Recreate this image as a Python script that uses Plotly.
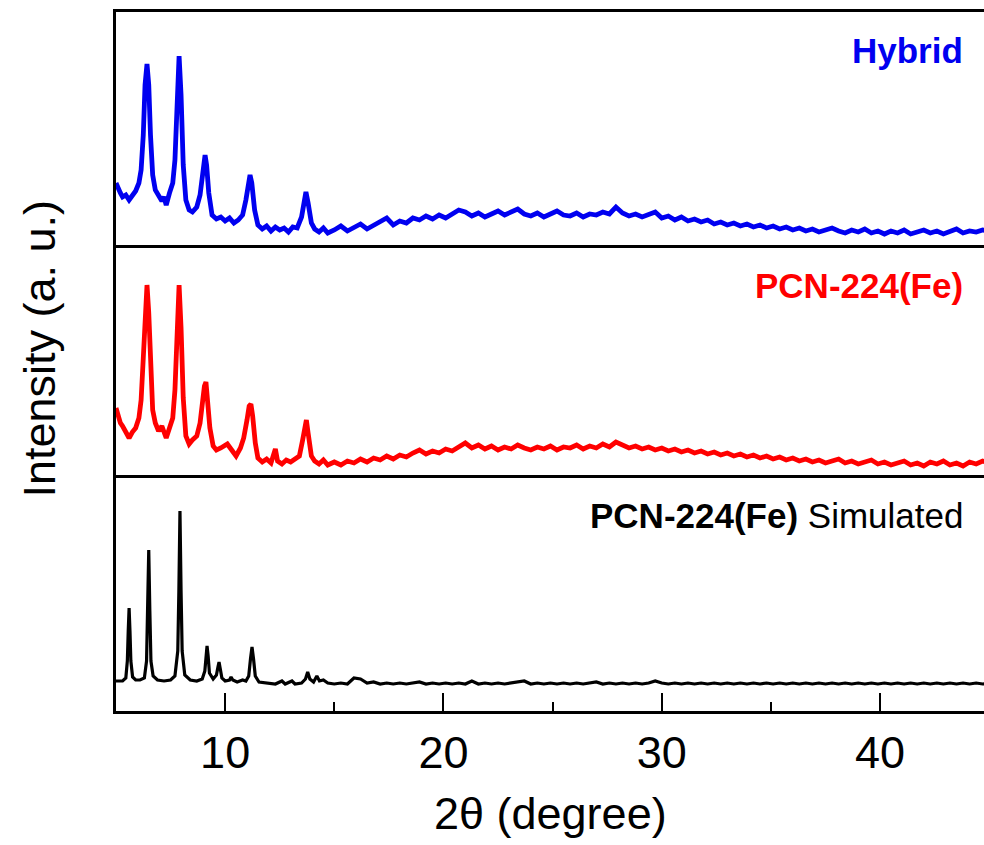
import plotly.graph_objects as go
from plotly.subplots import make_subplots

# ---------------- data (intensity in arbitrary units) ----------------
# Low-angle (peak) region, Hybrid
HYB_X = [5.0, 5.1, 5.2, 5.3, 5.45, 5.6, 5.75, 5.9, 6.05, 6.15, 6.25, 6.33, 6.42, 6.5, 6.58, 6.68,
         6.8, 6.95, 7.1, 7.2, 7.3, 7.45, 7.6, 7.7, 7.8, 7.89, 7.98, 8.08, 8.2, 8.35, 8.5, 8.7,
         8.85, 8.95, 9.03, 9.08, 9.15, 9.25, 9.4, 9.6, 9.8, 10.0, 10.2, 10.4, 10.6, 10.8, 10.95,
         11.05, 11.14, 11.22, 11.35, 11.5, 11.7, 11.9, 12.1, 12.3, 12.5, 12.7, 12.9, 13.1, 13.3,
         13.5, 13.62, 13.7, 13.8, 13.95, 14.1, 14.3, 14.5, 14.7]
HYB_Y = [62, 55, 52, 48, 50, 45, 49, 54, 62, 75, 110, 160, 181, 160, 110, 70,
         55, 50, 44, 48, 40, 52, 62, 85, 150, 189, 150, 80, 45, 35, 33, 38,
         50, 70, 88, 90, 80, 52, 30, 26, 28, 24, 27, 22, 25, 30, 45,
         62, 70, 62, 35, 20, 16, 19, 14, 18, 15, 17, 13, 18, 17,
         28, 45, 53, 42, 22, 16, 13, 17, 12]

# Low-angle (peak) region, PCN-224(Fe)
PCN_X = [5.0, 5.1, 5.2, 5.3, 5.45, 5.6, 5.75, 5.9, 6.05, 6.15, 6.25, 6.33, 6.42, 6.5, 6.58, 6.68,
         6.8, 6.95, 7.1, 7.2, 7.3, 7.45, 7.6, 7.7, 7.8, 7.89, 7.98, 8.08, 8.2, 8.35, 8.5, 8.7,
         8.85, 8.95, 9.05, 9.12, 9.2, 9.3, 9.45, 9.6, 9.8, 10.0, 10.1, 10.3, 10.5, 10.7, 10.85,
         11.0, 11.1, 11.18, 11.26, 11.38, 11.5, 11.7, 11.9, 12.1, 12.3, 12.4, 12.6, 12.8, 13.0,
         13.2, 13.4, 13.55, 13.65, 13.72, 13.8, 13.95, 14.1, 14.3, 14.5, 14.7]
PCN_Y = [70, 62, 55, 52, 45, 40, 46, 50, 60, 78, 120, 170, 193, 165, 110, 68,
         55, 47, 52, 44, 40, 50, 60, 88, 155, 193, 150, 80, 42, 34, 38, 42,
         55, 75, 92, 96, 80, 50, 32, 28, 30, 32, 34, 28, 22, 30, 40,
         58, 72, 74, 62, 35, 20, 16, 19, 15, 29, 17, 14, 18, 16,
         19, 22, 38, 54, 58, 45, 22, 17, 14, 18, 13]

# Low-angle (peak) region, simulated pattern
SIM_X = [5.0, 5.3, 5.45, 5.52, 5.56, 5.6, 5.64, 5.68, 5.76, 5.9, 6.1, 6.3, 6.4, 6.45, 6.5, 6.55,
         6.6, 6.7, 6.9, 7.2, 7.5, 7.7, 7.83, 7.88, 7.93, 7.98, 8.03, 8.15, 8.4, 8.7, 8.95, 9.07,
         9.12, 9.17, 9.22, 9.28, 9.45, 9.6, 9.67, 9.72, 9.77, 9.85, 10.0, 10.2, 10.27, 10.35,
         10.55, 10.7, 10.8, 10.95, 11.08, 11.16, 11.23, 11.3, 11.38, 11.55, 11.9, 12.3, 12.6,
         12.75, 13.06, 13.2, 13.5, 13.68, 13.78, 13.88, 14.05, 14.2, 14.32, 14.5, 14.7]
SIM_Y = [30, 30, 33, 50, 80, 103, 80, 50, 34, 31, 31, 33, 50, 100, 161, 100,
         50, 35, 31, 30, 31, 35, 60, 120, 200, 120, 60, 36, 31, 30, 32, 40,
         55, 65, 55, 38, 32, 36, 44, 49, 43, 33, 30, 31, 34, 31,
         29, 30, 31, 30, 35, 52, 64, 52, 35, 29, 28, 27, 30,
         27, 30, 27, 28, 32, 39, 32, 29, 35, 30, 31, 28]

# High-angle region (shared angle grid)
TAIL_X = [15.0, 15.3, 15.6, 15.9, 16.2, 16.5, 16.8, 17.1, 17.4, 17.7,
          18.0, 18.3, 18.6, 18.9, 19.2, 19.5, 19.8, 20.1, 20.4, 20.7,
          21.0, 21.3, 21.6, 21.9, 22.2, 22.5, 22.8, 23.1, 23.4, 23.7,
          24.0, 24.3, 24.6, 24.9, 25.2, 25.5, 25.8, 26.1, 26.4, 26.7,
          27.0, 27.3, 27.6, 27.9, 28.2, 28.5, 28.8, 29.1, 29.4, 29.7,
          30.0, 30.3, 30.6, 30.9, 31.2, 31.5, 31.8, 32.1, 32.4, 32.7,
          33.0, 33.3, 33.6, 33.9, 34.2, 34.5, 34.8, 35.1, 35.4, 35.7,
          36.0, 36.3, 36.6, 36.9, 37.2, 37.5, 37.8, 38.1, 38.4, 38.7,
          39.0, 39.3, 39.6, 39.9, 40.2, 40.5, 40.8, 41.1, 41.4, 41.7,
          42.0, 42.3, 42.6, 42.9, 43.2, 43.5, 43.8, 44.1, 44.4, 44.7, 45.0]
HYB_TAIL = [15, 19, 14, 18, 21, 16, 20, 23, 27, 20,
            24, 22, 27, 25, 29, 26, 30, 27, 31, 35,
            33, 29, 32, 28, 31, 34, 30, 33, 36, 31,
            29, 32, 28, 31, 34, 30, 29, 32, 28, 31,
            30, 33, 31, 38, 32, 29, 31, 28, 30, 33,
            27, 29, 25, 28, 24, 26, 23, 25, 21, 23,
            20, 22, 19, 21, 18, 20, 17, 19, 16, 18,
            15, 17, 14, 16, 13, 15, 17, 14, 12, 15,
            13, 16, 12, 14, 11, 14, 12, 15, 11, 13,
            15, 12, 14, 11, 13, 16, 12, 14, 13, 15, 14]
PCN_TAIL = [16, 13, 17, 15, 19, 16, 20, 18, 22, 19,
            23, 21, 25, 28, 24, 27, 25, 29, 27, 31,
            35, 30, 33, 29, 32, 28, 31, 29, 33, 30,
            28, 31, 29, 32, 28, 31, 30, 33, 29, 32,
            30, 34, 31, 36, 33, 30, 32, 29, 31, 28,
            30, 27, 29, 26, 28, 25, 27, 24, 26, 23,
            25, 22, 24, 21, 23, 20, 22, 19, 21, 18,
            20, 17, 19, 16, 18, 15, 17, 19, 15, 17,
            14, 16, 18, 14, 16, 13, 15, 17, 13, 15,
            12, 16, 14, 17, 13, 15, 12, 16, 14, 17, 15]
SIM_TAIL = [27, 28, 27, 33, 32, 28, 29, 27, 28, 27,
            28, 27, 28, 29, 27, 28, 27, 28, 27, 28,
            27, 30, 27, 28, 27, 28, 27, 28, 29, 30,
            27, 28, 27, 28, 27, 28, 27, 28, 27, 28,
            29, 27, 28, 27, 28, 27, 28, 27, 28, 30,
            28, 27, 28, 27, 28, 27, 28, 27, 28, 27,
            28, 27, 28, 27, 28, 27, 28, 27, 28, 27,
            28, 27, 28, 27, 28, 27, 28, 27, 28, 27,
            28, 27, 28, 27, 28, 27, 28, 27, 28, 27,
            28, 27, 28, 27, 28, 27, 28, 27, 28, 27, 28]

LABELS = ["<b>Hybrid</b>", "<b>PCN-224(Fe)</b>", "<b>PCN-224(Fe)</b> Simulated"]
COLORS = ["#0000F0", "#FF0000", "#000000"]
X_TICKS = [10, 20, 30, 40]
X_MINOR = [15, 25, 35]

# ---------------- figure ----------------
FONT = "Liberation Sans, Arial, sans-serif"
fig = make_subplots(rows=3, cols=1, shared_xaxes=True, vertical_spacing=0)

series = [
    (HYB_X + TAIL_X, HYB_Y + HYB_TAIL, 4.8),
    (PCN_X + TAIL_X, PCN_Y + PCN_TAIL, 4.8),
    (SIM_X + TAIL_X, SIM_Y + SIM_TAIL, 3.2),
]
for i, (xs, ys, w) in enumerate(series):
    fig.add_trace(go.Scatter(x=xs, y=ys, mode="lines",
                             line=dict(color=COLORS[i], width=w),
                             showlegend=False, hoverinfo="skip"),
                  row=i + 1, col=1)

for r in (1, 2, 3):
    fig.update_xaxes(range=[5, 44.76], showline=(r != 2), mirror=True, linecolor="black",
                     linewidth=2.5, showgrid=False, zeroline=False, row=r, col=1)
    fig.update_yaxes(range=[0, 233], showline=True, mirror=False, linecolor="black",
                     linewidth=2.5, showgrid=False, zeroline=False, showticklabels=False,
                     ticks="", row=r, col=1)
for r in (1, 2):
    fig.update_xaxes(showticklabels=False, ticks="", row=r, col=1)
fig.update_xaxes(ticks="inside", ticklen=18, tickwidth=2, tickcolor="black",
                 tickmode="array", tickvals=X_TICKS, ticktext=[str(v) for v in X_TICKS],
                 tickfont=dict(family=FONT, size=45, color="black"),
                 minor=dict(ticks="inside", ticklen=9, tickwidth=2, tickcolor="black",
                            tickmode="array", tickvals=X_MINOR),
                 row=3, col=1)

label_y = [0.9456, 0.6094, 0.2804]
anns = []
for i in range(3):
    anns.append(dict(text=LABELS[i], xref="paper", yref="paper", x=0.978, y=label_y[i],
                     xanchor="right", yanchor="middle", showarrow=False,
                     font=dict(family=FONT, size=35, color=COLORS[i] if i < 2 else "black")))
anns.append(dict(text="2θ (degree)", xref="paper", yref="paper", x=0.5, y=-0.146,
                 xanchor="center", yanchor="middle", showarrow=False,
                 font=dict(family=FONT, size=45, color="black")))
anns.append(dict(text="Intensity (a. u.)", xref="paper", yref="paper", x=-0.088, y=0.518,
                 xanchor="center", yanchor="middle", showarrow=False, textangle=-90,
                 font=dict(family=FONT, size=45, color="black")))

fig.update_layout(width=984, height=845, margin=dict(l=116, r=0, t=12, b=134),
                  paper_bgcolor="white", plot_bgcolor="white", annotations=anns)

fig.write_html("out.html")
